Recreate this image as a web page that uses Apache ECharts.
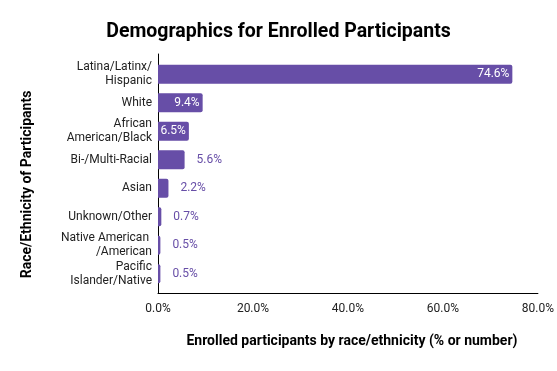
<!DOCTYPE html>
<html><head><meta charset="utf-8">
<script src="https://cdn.jsdelivr.net/npm/echarts@6/dist/echarts.min.js"></script>
<style>html,body{margin:0;padding:0;background:#fff}#c{width:557px;height:371px}</style>
</head><body><div id="c"></div>
<script>
const categories = ["Latina/Latinx/\nHispanic","White","African\nAmerican/Black","Bi-/Multi-Racial","Asian","Unknown/Other","Native American \n/American","Pacific\nIslander/Native"];
const values = [74.6, 9.4, 6.5, 5.6, 2.2, 0.7, 0.5, 0.5];
const insideLabel = [true, true, true, false, false, false, false, false];
const xTicks = [0, 20, 40, 60, 80];

const purple = '#674ea7';
const font = 'Roboto, "Noto Sans", sans-serif';
const chart = echarts.init(document.getElementById('c'));
chart.setOption({
  animation: false,
  title: {text: 'Demographics for Enrolled Participants', left: 'center', top: 17,
    textStyle: {fontFamily: font, fontSize: 19.5, fontWeight: 'bold', color: '#000'}},
  grid: [
    {left: 158, right: 19, top: 54, bottom: 78},
    {left: 158, right: 19, top: 60, bottom: 83}
  ],
  xAxis: [
    {type: 'value', gridIndex: 0, min: xTicks[0], max: xTicks[xTicks.length-1], interval: 20,
     axisLine: {show: true, lineStyle: {color: '#000', width: 1}}, axisTick: {show: false}, splitLine: {show: false},
     axisLabel: {formatter: v => v.toFixed(1) + '%', color: '#222', fontFamily: font, fontSize: 12, margin: 10},
     name: 'Enrolled participants by race/ethnicity (% or number)', nameLocation: 'middle', nameGap: 41,
     nameTextStyle: {fontFamily: font, fontSize: 14, fontWeight: 'bold', color: '#000', padding: [0, 0, 0, 8]}},
    {type: 'value', gridIndex: 1, min: 0, max: 80, show: false}
  ],
  yAxis: [
    {type: 'category', gridIndex: 0, data: categories, inverse: true,
     axisLine: {show: true, lineStyle: {color: '#000', width: 1}}, axisTick: {show: false}, axisLabel: {show: false},
     name: 'Race/Ethnicity of Participants', nameLocation: 'middle', nameGap: 124, nameRotate: 90,
     nameTextStyle: {fontFamily: font, fontSize: 14, fontWeight: 'bold', color: '#000', padding: [0, 22, 0, 0]}},
    {type: 'category', gridIndex: 1, data: categories, inverse: true,
     axisLine: {show: false}, axisTick: {show: false},
     axisLabel: {color: '#222', fontFamily: font, fontSize: 12, lineHeight: 14, margin: 6}}
  ],
  series: [{
    type: 'bar', xAxisIndex: 1, yAxisIndex: 1, barWidth: 19,
    itemStyle: {color: purple, borderRadius: [0, 2, 2, 0]},
    data: values.map((v, i) => ({
      value: v,
      label: insideLabel[i]
        ? {show: true, position: 'insideRight', distance: 3, color: '#fff'}
        : {show: true, position: 'right', distance: 12, color: purple}
    })),
    label: {formatter: p => p.value.toFixed(1) + '%', fontFamily: font, fontSize: 12}
  }]
});
</script></body></html>
